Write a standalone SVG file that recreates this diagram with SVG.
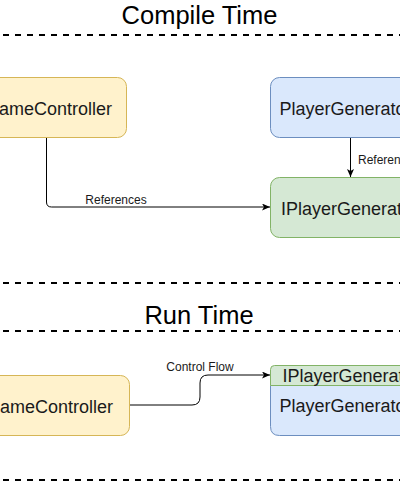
<svg xmlns="http://www.w3.org/2000/svg" width="400" height="482" viewBox="0 0 400 482">
  <style>
    .sep { stroke: #000; stroke-width: 2; stroke-dasharray: 6 6; fill: none; }
    .title { font-family: "Liberation Sans", Arial, sans-serif; font-size: 25.5px; fill: #000; text-anchor: middle; }
    .node { font-family: "Liberation Sans", Arial, sans-serif; font-size: 18px; fill: #1a1a1a; }
    .lbl { font-family: "Liberation Sans", Arial, sans-serif; font-size: 12px; fill: #1a1a1a; }
    .yellow { fill: #fff2cc; stroke: #d6b656; stroke-width: 1; }
    .blue { fill: #dae8fc; stroke: #6c8ebf; stroke-width: 1; }
    .green { fill: #d5e8d4; stroke: #82b366; stroke-width: 1; }
    .edge { fill: none; stroke: #000; stroke-width: 1; marker-end: url(#arrow); }
  </style>
  <defs>
    <marker id="arrow" viewBox="0 0 8 7" refX="8" refY="3.5" markerWidth="8" markerHeight="7" markerUnits="userSpaceOnUse" orient="auto">
      <path d="M0,0 L8,3.5 L0,7 L2,3.5 Z" fill="#000"/>
    </marker>
  </defs>
  <rect width="400" height="482" fill="#fff"/>

  <g id="separators">
    <line class="sep" x1="3" y1="35" x2="400" y2="35"/>
    <line class="sep" x1="3" y1="283" x2="400" y2="283"/>
    <line class="sep" x1="3" y1="331" x2="400" y2="331"/>
    <line class="sep" x1="3" y1="480" x2="400" y2="480"/>
  </g>

  <g id="titles">
    <text class="title" x="199.5" y="24">Compile Time</text>
    <text class="title" x="199" y="324">Run Time</text>
  </g>

  <g id="connectors">
    <path class="edge" d="M46.5,137.5 V202 Q46.5,207 51.5,207 H270"/>
    <path class="edge" d="M350.5,137.5 V177"/>
    <path class="edge" d="M129.5,405 H192 Q200,405 200,397 V383 Q200,375 208,375 H270"/>
    <text class="lbl" x="116" y="203.5" text-anchor="middle">References</text>
    <text class="lbl" x="358" y="163.5">References</text>
    <text class="lbl" x="200" y="370.5" text-anchor="middle">Control Flow</text>
  </g>

  <g id="ct-gamecontroller">
    <rect class="yellow" x="-33.5" y="77.5" width="160" height="60" rx="9" ry="9"/>
    <text class="node" x="48.5" y="114.5" text-anchor="middle">GameController</text>
  </g>

  <g id="ct-playergenerator">
    <rect class="blue" x="270.5" y="77.5" width="160" height="60" rx="9" ry="9"/>
    <text class="node" x="279.5" y="114.5">PlayerGenerator</text>
  </g>

  <g id="ct-iplayergenerator">
    <rect class="green" x="270.5" y="177.5" width="160" height="60" rx="9" ry="9"/>
    <text class="node" x="281" y="214.5">IPlayerGenerator</text>
  </g>

  <g id="rt-gamecontroller">
    <rect class="yellow" x="-30.5" y="375.5" width="160" height="60" rx="9" ry="9"/>
    <text class="node" x="49.5" y="412.5" text-anchor="middle">GameController</text>
  </g>

  <g id="rt-playergenerator">
    <path class="blue" d="M270.5,385.5 V426.5 Q270.5,435.5 279.5,435.5 H430.5 V385.5 Z"/>
    <path class="green" d="M270.5,385.5 V369.5 Q270.5,365.5 274.5,365.5 H430.5 V385.5 Z"/>
    <text class="node" x="282.5" y="381.5">IPlayerGenerator</text>
    <text class="node" x="279.5" y="412">PlayerGenerator</text>
  </g>
</svg>
